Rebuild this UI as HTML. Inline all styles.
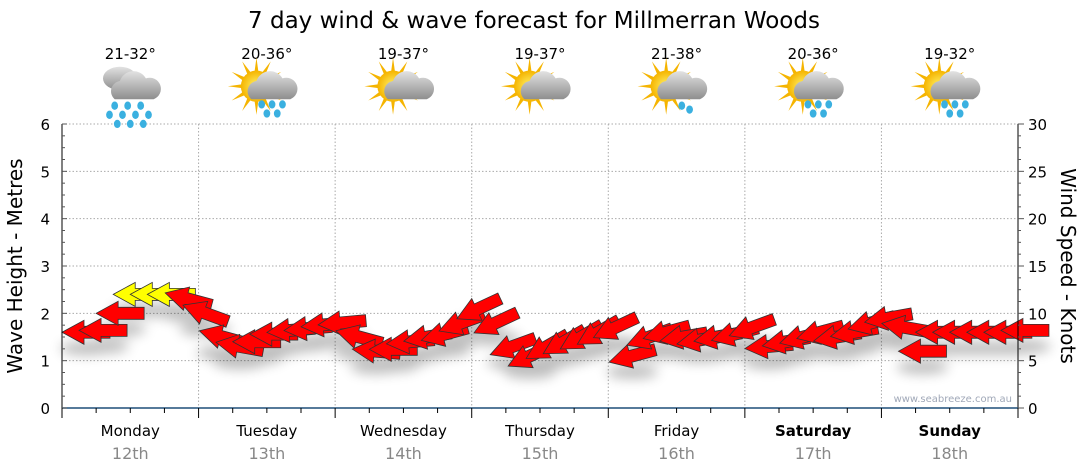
<!DOCTYPE html>
<html><head><meta charset="utf-8">
<style>
html,body{margin:0;padding:0;background:#fff;}
svg{display:block;font-family:"DejaVu Sans","Liberation Sans",sans-serif;}
</style></head>
<body>
<svg id="chart" width="1080" height="475" viewBox="0 0 1080 475" xmlns="http://www.w3.org/2000/svg">
<defs>
<filter id="sh" x="-50%" y="-50%" width="200%" height="200%"><feGaussianBlur stdDeviation="6"/></filter>
<radialGradient id="sun" cx="50%" cy="50%" r="50%"><stop offset="0" stop-color="#fff36a"/><stop offset="1" stop-color="#f5b400"/></radialGradient>
<linearGradient id="cloud" x1="0" y1="0" x2="0" y2="1"><stop offset="0" stop-color="#e2e2e2"/><stop offset="1" stop-color="#8e8e8e"/></linearGradient>
</defs>
<text x="534" y="28" text-anchor="middle" font-size="23" fill="#000">7 day wind &amp; wave forecast for Millmerran Woods</text>
<g id="grid"></g>
<g id="shadows" filter="url(#sh)" opacity="0.25"></g>
<g id="arrows"></g>
<g id="axes"></g>
<g id="icons"></g>
<text transform="translate(22,266) rotate(-90)" text-anchor="middle" font-size="20" fill="#000">Wave Height - Metres</text>
<text transform="translate(1061,266) rotate(90)" text-anchor="middle" font-size="20" fill="#000">Wind Speed - Knots</text>
<text x="1012" y="402" text-anchor="end" font-size="10" fill="#a0a8b8">www.seabreeze.com.au</text>
</svg>
<script>
const days = ["Monday","Tuesday","Wednesday","Thursday","Friday","Saturday","Sunday"];
const dates = ["12th","13th","14th","15th","16th","17th","18th"];
const boldDays = [false,false,false,false,false,true,true];
const temps = ["21-32°","20-36°","19-37°","19-37°","21-38°","20-36°","19-32°"];
const iconTypes = ["rain","sunrain","suncloud","suncloud","sunshower","sunrain","sunrain"];
const waveTicks = [0,1,2,3,4,5,6];
const windTicks = [0,5,10,15,20,25,30];
// wind speed knots every 3 hours
const windSpeed = [8,8.2,10,12,12,12,11.5,10,
 7.5,6.5,7,7.8,8.2,8.4,8.8,9,
 7.5,6,6.2,7,7.5,7.8,9,10.5,
 9,6.5,5.5,6.5,7,7.5,8,8.5,
 5.5,7.5,8,7.5,7.2,7.5,7.8,8.5,
 6.5,7,7.5,8,7.5,8,9,9.5,
 8.5,6,8,8,8,8,8,8.2];
// wind from bearing in degrees
const windDir = [90,90,90,90,90,90,105,110,
 105,100,90,90,85,85,85,85,
 105,95,90,85,80,75,70,65,
 65,70,65,60,60,60,60,65,
 75,70,75,80,80,80,75,70,
 85,80,75,75,80,80,75,80,
 100,90,90,90,90,90,90,90];
const NS="http://www.w3.org/2000/svg";
const X0=62,X1=1018,Y0=408,Y1=124;
const xT=h=>X0+(X1-X0)*h/168;
const yWave=v=>Y0-(Y0-Y1)*v/6;
const yWind=v=>Y0-(Y0-Y1)*v/30;
function mk(tag,attrs,parent){const e=document.createElementNS(NS,tag);for(const k in attrs)e.setAttribute(k,attrs[k]);parent.appendChild(e);return e;}
const grid=document.getElementById('grid'),axes=document.getElementById('axes');
waveTicks.forEach(v=>{ if(v>0){const l=mk('line',{x1:X0,x2:X1,y1:yWave(v),y2:yWave(v),stroke:'#aaa','stroke-dasharray':'1.5,2'},grid);

}
const t=mk('text',{x:50,y:yWave(v)+6,'text-anchor':'end','font-size':15,fill:'#000'},axes);t.textContent=v;

});
windTicks.forEach(v=>{const t=mk('text',{x:1028,y:yWind(v)+6,'font-size':15,fill:'#000'},axes);t.textContent=v;

});
for(let d=1;d<7;d++){const l=mk('line',{x1:xT(d*24),x2:xT(d*24),y1:Y1,y2:Y0,stroke:'#aaa','stroke-dasharray':'1.5,2'},grid);

}
mk('line',{x1:X0,x2:X0,y1:Y1,y2:Y0+10,stroke:'#000'},axes);
mk('line',{x1:X1,x2:X1,y1:Y1,y2:Y0,stroke:'#000'},axes);
mk('line',{x1:X0,x2:X1,y1:Y0,y2:Y0,stroke:'#1f4e79','stroke-width':1.5},axes);
for(let i=0;i<=24;i++){const y=Y0-(Y0-Y1)*i/24;const w=i%4==0?5:3;
mk('line',{x1:X0,x2:X0+w,y1:y,y2:y,stroke:'#555'},axes);
mk('line',{x1:X1,x2:X1+(i%4==0?6:3),y1:y,y2:y,stroke:'#555'},axes);}
for(let h=0;h<=168;h+=6){mk('line',{x1:xT(h),x2:xT(h),y1:Y0,y2:Y0+(h%24==0?10:5),stroke:'#000'},axes);}
days.forEach((d,i)=>{const cx=xT(i*24+12);
const t=mk('text',{x:cx,y:436,'text-anchor':'middle','font-size':15,fill:'#000','font-weight':boldDays[i]?'bold':'normal'},axes);t.textContent=d;


const t2=mk('text',{x:cx,y:459,'text-anchor':'middle','font-size':16,fill:'#888'},axes);t2.textContent=dates[i];


const t3=mk('text',{x:cx,y:59,'text-anchor':'middle','font-size':15,fill:'#000'},axes);t3.textContent=temps[i];


drawIcon(cx,94,iconTypes[i]);});
function drawIcon(cx,cy,type){const g=mk('g',{transform:`translate(${cx},${cy}) scale(1.3)`},document.getElementById('icons'));


if(type!=='rain'){for(let a=0;a<360;a+=30){mk('polygon',{points:'-3,0 3,0 0,-22',fill:'#f5b400',transform:`translate(-8,-6) rotate(${a})`},g);}
mk('circle',{cx:-8,cy:-6,r:12,fill:'url(#sun)'},g);}
if(type==='rain'){mk('ellipse',{cx:-8,cy:-12,rx:13,ry:9,fill:'url(#cloud)'},g);}
mk('path',{d:'M-12,4 a8,8 0 0 1 4,-14 a11,11 0 0 1 20,-2 a8,8 0 0 1 6,16 z',fill:'url(#cloud)'},g);
if(type!=='suncloud'){const drops=type==='rain'?[[-14,9],[-4,9],[6,9],[-18,16],[-8,16],[2,16],[12,16],[-12,23],[-2,23],[8,23]]:type==='sunshower'?[[2,9],[8,12]]:[[-6,8],[2,8],[10,8],[-2,15],[6,15]];
drops.forEach(p=>mk('ellipse',{cx:p[0]+2,cy:p[1],rx:2.6,ry:3.2,fill:'#3ab0e0'},g));}}
const arrows=document.getElementById('arrows'),shadows=document.getElementById('shadows');
windSpeed.forEach((v,i)=>{const x=xT(i*3),y=yWind(v),rot=windDir[i]-90;
const yellow=v>=11.8;
mk('ellipse',{cx:x+24,cy:y+16,rx:26,ry:7,fill:'#000'},shadows);
const p=mk('polygon',{points:'-24,0 -2,-12 -2,-6 24,-6 24,6 -2,6 -2,12',fill:yellow?'#ffff00':'#ff0000',stroke:'#333','stroke-width':0.8,transform:`translate(${x+24},${y}) rotate(${rot})`},arrows);

});
</script>
</body></html>
